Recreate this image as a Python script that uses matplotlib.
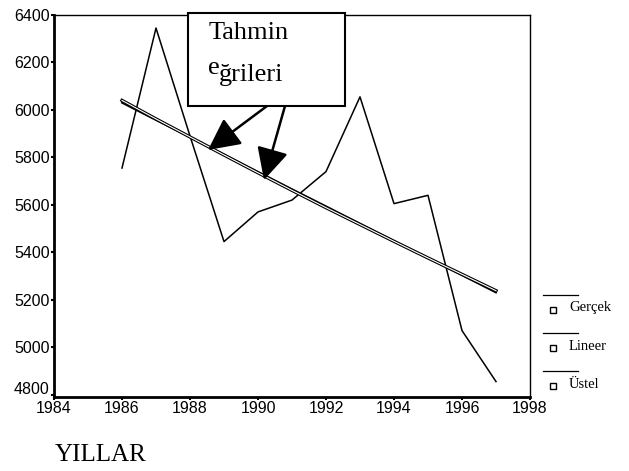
import matplotlib
matplotlib.use("Agg")
import matplotlib.pyplot as plt
import matplotlib.transforms as mtransforms
from matplotlib.lines import Line2D
from matplotlib.patches import Rectangle, FancyArrowPatch

years = [1986, 1987, 1988, 1989, 1990, 1991, 1992, 1993, 1994, 1995, 1996, 1997]
gercek = [5755, 6345, 5890, 5445, 5570, 5620, 5740, 6055, 5605, 5640, 5070, 4855]
lineer = [6030, 5957, 5885, 5812, 5739, 5666, 5594, 5521, 5448, 5376, 5303, 5230]
ustel = [6040, 5962, 5886, 5810, 5735, 5661, 5588, 5517, 5446, 5376, 5307, 5238]
xticks = [1984, 1986, 1988, 1990, 1992, 1994, 1996, 1998]
yticks = [4800, 5000, 5200, 5400, 5600, 5800, 6000, 6200, 6400]
legend_labels = ["Gerçek", "Lineer", "Üstel"]

fig = plt.figure(figsize=(6.29, 4.71), dpi=100)
W, H = 629, 471
ax = fig.add_axes([54 / W, 1 - 397 / H, (530 - 54) / W, (397 - 15) / H])

ax.plot(years, gercek, color="black", lw=1.1)
ax.plot(years, lineer, color="black", lw=1.3)
ax.plot(years, ustel, color="black", lw=2.4)
ax.plot(years, ustel, color="white", lw=0.8)

ax.set_xlim(1984, 1998)
ax.set_ylim(4790, 6400)
ax.set_xticks(xticks)
ax.set_yticks(yticks)
ax.tick_params(direction="out", length=2, width=1.5, labelsize=11.5, pad=1)
for lab in ax.get_xticklabels() + ax.get_yticklabels():
    lab.set_family("Liberation Sans")
# lift the lowest y label slightly, as in the reference
ylabs = ax.get_yticklabels()
ylabs[0].set_transform(ylabs[0].get_transform() +
                       mtransforms.ScaledTranslation(0, 7 / 100, fig.dpi_scale_trans))
for s in ["left", "bottom"]:
    ax.spines[s].set_linewidth(2)
for s in ["top", "right"]:
    ax.spines[s].set_linewidth(1.0)

# annotation box
box = Rectangle((188 / W, 1 - 106 / H), (345 - 188) / W, (106 - 13) / H,
                transform=fig.transFigure, facecolor="white", edgecolor="black",
                lw=1.5, zorder=5)
fig.patches.append(box)
fig.text(209 / W, 1 - 33 / H, "Tahmin", family="Liberation Serif", fontsize=19,
         va="center", ha="left", zorder=6)
fig.text(208 / W, 1 - 68 / H, "e", family="Liberation Serif", fontsize=19,
         va="center", ha="left", zorder=6)
fig.text(219 / W, 1 - 75 / H, "ğrileri", family="Liberation Serif", fontsize=19,
         va="center", ha="left", zorder=6)

for (x0, y0, x1, y1) in [(267, 106, 208, 150), (285, 106, 264, 180)]:
    fig.add_artist(FancyArrowPatch(
        (x0 / W, 1 - y0 / H), (x1 / W, 1 - y1 / H), transform=fig.transFigure,
        arrowstyle="-|>,head_length=1.4,head_width=0.7", mutation_scale=14,
        color="black", lw=1.8, shrinkA=0, shrinkB=0))

# legend
for i, lab in enumerate(legend_labels):
    yl = 295 + 38 * i
    fig.add_artist(Line2D([543 / W, 578 / W], [1 - yl / H, 1 - yl / H],
                          transform=fig.transFigure, color="black", lw=0.9))
    fig.add_artist(Line2D([553 / W], [1 - (yl + 15) / H], transform=fig.transFigure,
                          marker="s", markersize=4, markerfacecolor="white",
                          markeredgecolor="black", markeredgewidth=1, linestyle="none"))
    fig.text(569 / W, 1 - (yl + 13) / H, lab, family="Liberation Serif", fontsize=10.5,
             va="center", ha="left")

fig.text(55 / W, 1 - 455 / H, "YILLAR", family="Liberation Serif", fontsize=18,
         va="center", ha="left")

fig.savefig("out.png", dpi=100)
